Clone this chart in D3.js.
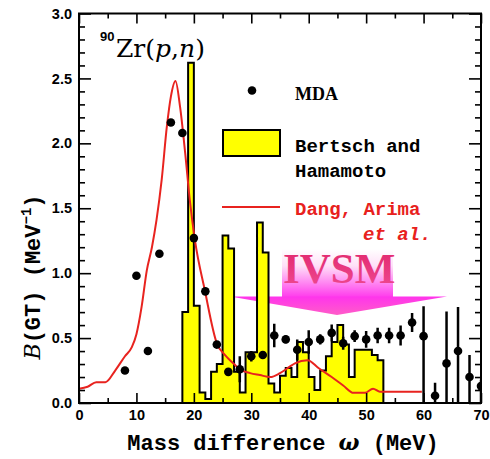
<!DOCTYPE html>
<html>
<head>
<meta charset="utf-8">
<script src="https://cdn.jsdelivr.net/npm/d3@7"></script>
<style>
  body { margin: 0; background: #fff; }
  svg { display: block; }
</style>
</head>
<body>
<svg id="chart" width="490" height="459"></svg>
<script>
// MDA points (MeV, B(GT) per MeV) with error bars
const mdaX = [8, 10, 12, 14, 16, 18, 20, 22, 24, 26, 28, 30, 32, 34, 36, 38, 40, 42, 44, 46, 48, 50, 52, 54, 56, 58, 60, 62, 64, 66, 68, 70];
const mdaY = [0.25, 0.98, 0.40, 1.15, 2.16, 2.08, 1.27, 0.86, 0.45, 0.24, 0.26, 0.36, 0.37, 0.52, 0.49, 0.41, 0.47, 0.49, 0.54, 0.46, 0.515, 0.49, 0.52, 0.52, 0.52, 0.62, 0.515, 0.056, 0.305, 0.40, 0.20, 0.13];
const mdaErrLo = [0, 0, 0, 0, 0, 0, 0, 0, 0, 0, 0.10, 0.04, 0.03, 0.09, 0.03, 0.08, 0.09, 0.04, 0.065, 0.05, 0.045, 0.065, 0.06, 0.06, 0.077, 0.074, 0.515, 0.056, 0.305, 0.40, 0.20, 0.13];
const mdaErrHi = [0, 0, 0, 0, 0, 0, 0, 0, 0, 0, 0.10, 0.04, 0.03, 0.09, 0.03, 0.08, 0.09, 0.04, 0.065, 0.05, 0.045, 0.065, 0.06, 0.06, 0.077, 0.074, 0.23, 0.10, 0.40, 0.34, 0.17, 0.05];

// Bertsch and Hamamoto histogram, 1 MeV bins
const binLo = [18, 19, 20, 21, 22, 23, 24, 25, 26, 27, 28, 29, 30, 31, 32, 33, 34, 35, 36, 37, 38, 39, 40, 41, 42, 43, 44, 45, 46, 47, 48, 49, 50, 51, 52];
const binVal = [0.70, 2.62, 0.75, 0.08, 0.03, 0.24, 0.30, 1.29, 1.19, 0.24, 0.08, 0.39, 0.39, 1.39, 1.16, 0.15, 0.08, 0.21, 0.27, 0.20, 0.47, 0.39, 0.20, 0.10, 0.25, 0.36, 0.47, 0.60, 0.45, 0.20, 0.41, 0.41, 0.41, 0.37, 0.33];
const binWidth = 1;

// Dang, Arima et al. curve
const dangX = [0, 1.5, 3, 4.6, 6.3, 8, 9.2, 10, 10.9, 11.8, 12.7, 13.5, 14.4, 15.3, 16, 16.8, 17.6, 18.5, 19.3, 20.2, 21.9, 24, 25.4, 27, 28, 29.8, 31.5, 33.3, 35, 36.7, 37.6, 39.8, 41.7, 44, 46, 47.8, 49.8, 51.2, 52.4, 59.7];
const dangY = [0.11, 0.125, 0.16, 0.16, 0.25, 0.36, 0.43, 0.53, 0.74, 1.02, 1.20, 1.41, 1.72, 2.13, 2.36, 2.48, 2.28, 1.92, 1.56, 1.25, 0.87, 0.46, 0.37, 0.30, 0.26, 0.23, 0.215, 0.20, 0.23, 0.28, 0.305, 0.33, 0.27, 0.20, 0.135, 0.078, 0.078, 0.11, 0.087, 0.087];

const xTicks = [0, 10, 20, 30, 40, 50, 60, 70];
const xMinor = [5, 15, 25, 35, 45, 55, 65];
const yTicks = [0, 0.5, 1.0, 1.5, 2.0, 2.5, 3.0];
const yMinor = d3.range(0, 3.001, 0.1).filter(v => Math.abs(v * 2 - Math.round(v * 2)) > 1e-6);

const L = 79, R = 481, T = 13.5, B = 403;
const svg = d3.select("#chart");
const x = d3.scaleLinear().domain([0, 70]).range([L, R]);
const y = d3.scaleLinear().domain([0, 3]).range([B, T]);

const defs = svg.append("defs");
const gShaft = defs.append("linearGradient").attr("id", "shaft").attr("x1", 0).attr("y1", 0).attr("x2", 0).attr("y2", 1);
gShaft.append("stop").attr("offset", "0").attr("stop-color", "#ffffff");
gShaft.append("stop").attr("offset", "0.35").attr("stop-color", "#ffe0f8");
gShaft.append("stop").attr("offset", "1").attr("stop-color", "#ff3cec");
const gHead = defs.append("linearGradient").attr("id", "head").attr("x1", 0).attr("y1", 0).attr("x2", 0).attr("y2", 1);
gHead.append("stop").attr("offset", "0").attr("stop-color", "#ff34ec");
gHead.append("stop").attr("offset", "1").attr("stop-color", "#ff5cc8");
const gText = defs.append("linearGradient").attr("id", "ivsmtxt").attr("x1", 0).attr("y1", 0).attr("x2", 0).attr("y2", 1);
gText.append("stop").attr("offset", "0").attr("stop-color", "#e0246a");
gText.append("stop").attr("offset", "1").attr("stop-color", "#f04c94");
defs.append("clipPath").attr("id", "plotclip")
  .append("rect").attr("x", L).attr("y", T).attr("width", R - L).attr("height", B - T);

// IVSM arrow (behind the histogram)
const arrow = svg.append("g");
arrow.append("rect")
  .attr("x", 282).attr("y", 249).attr("width", 111).attr("height", 48)
  .attr("fill", "url(#shaft)");
arrow.append("path")
  .attr("d", "M230,296.5 L447,296.5 L337,315 Z")
  .attr("fill", "url(#head)");
arrow.append("text")
  .attr("x", 283).attr("y", 283)
  .attr("font-family", "'Liberation Serif', serif")
  .attr("font-weight", "bold")
  .attr("font-size", 43)
  .attr("fill", "url(#ivsmtxt)")
  .text("IVSM");

// histogram
let hp = `M${x(binLo[0])},${y(0)}`;
binLo.forEach((lo, i) => {
  hp += ` L${x(lo)},${y(binVal[i])} L${x(lo + binWidth)},${y(binVal[i])}`;
});
hp += ` L${x(binLo[binLo.length - 1] + binWidth)},${y(0)} Z`;
svg.append("path")
  .attr("d", hp)
  .attr("fill", "#ffff00")
  .attr("stroke", "#000")
  .attr("stroke-width", 2)
  .attr("stroke-linejoin", "miter");

// theory curve
const line = d3.line().x(d => x(d[0])).y(d => y(d[1])).curve(d3.curveMonotoneX);
svg.append("path")
  .datum(dangX.map((v, i) => [v, dangY[i]]))
  .attr("d", line)
  .attr("fill", "none")
  .attr("stroke", "#e8231f")
  .attr("stroke-width", 2);

// MDA points
const pts = svg.append("g").attr("clip-path", "url(#plotclip)");
mdaX.forEach((v, i) => {
  if (mdaErrHi[i] > 0 || mdaErrLo[i] > 0) {
    pts.append("line")
      .attr("x1", x(v)).attr("x2", x(v))
      .attr("y1", y(Math.max(0, mdaY[i] - mdaErrLo[i])))
      .attr("y2", y(mdaY[i] + mdaErrHi[i]))
      .attr("stroke", "#000").attr("stroke-width", 2.5);
  }
  pts.append("circle")
    .attr("cx", x(v)).attr("cy", y(mdaY[i])).attr("r", 4.3)
    .attr("fill", "#000");
});

// axes with inward ticks
function styleAxis(g) {
  g.select(".domain").remove();
  g.selectAll(".tick line").attr("stroke", "#000").attr("stroke-width", 1.6);
  g.selectAll(".tick text")
    .attr("font-family", "'Liberation Sans', Arial, sans-serif")
    .attr("font-weight", "bold")
    .attr("font-size", 14.5)
    .attr("fill", "#000");
}
svg.append("g").attr("transform", `translate(0,${B})`)
  .call(d3.axisBottom(x).tickValues(xTicks).tickSize(-10).tickPadding(7).tickFormat(d3.format("d")))
  .call(styleAxis);
svg.append("g").attr("transform", `translate(0,${B})`)
  .call(d3.axisBottom(x).tickValues(xMinor).tickSize(-5).tickFormat(""))
  .call(styleAxis);
svg.append("g").attr("transform", `translate(0,${T})`)
  .call(d3.axisTop(x).tickValues(xTicks).tickSize(-10).tickFormat(""))
  .call(styleAxis);
svg.append("g").attr("transform", `translate(0,${T})`)
  .call(d3.axisTop(x).tickValues(xMinor).tickSize(-5).tickFormat(""))
  .call(styleAxis);
svg.append("g").attr("transform", `translate(${L},0)`)
  .call(d3.axisLeft(y).tickValues(yTicks).tickSize(-12).tickPadding(7).tickFormat(d3.format(".1f")))
  .call(styleAxis);
svg.append("g").attr("transform", `translate(${L},0)`)
  .call(d3.axisLeft(y).tickValues(yMinor).tickSize(-6).tickFormat(""))
  .call(styleAxis);
svg.append("g").attr("transform", `translate(${R},0)`)
  .call(d3.axisRight(y).tickValues(yTicks).tickSize(-12).tickFormat(""))
  .call(styleAxis);
svg.append("g").attr("transform", `translate(${R},0)`)
  .call(d3.axisRight(y).tickValues(yMinor).tickSize(-6).tickFormat(""))
  .call(styleAxis);

svg.append("rect")
  .attr("x", L).attr("y", T).attr("width", R - L).attr("height", B - T)
  .attr("fill", "none").attr("stroke", "#000").attr("stroke-width", 2);

// axis titles
const mono = "'Liberation Mono', 'DejaVu Sans Mono', monospace";
const xt = svg.append("text")
  .attr("x", 283).attr("y", 450)
  .attr("text-anchor", "middle")
  .attr("font-family", mono).attr("font-weight", "bold").attr("font-size", 22);
xt.append("tspan").text("Mass difference ");
xt.append("tspan").attr("font-family", "'DejaVu Serif', serif").attr("font-style", "italic").text("ω");
xt.append("tspan").text(" (MeV)");

const yt = svg.append("text")
  .attr("transform", "translate(40,277) rotate(-90)")
  .attr("text-anchor", "middle")
  .attr("font-family", mono).attr("font-weight", "bold").attr("font-size", 22);
yt.append("tspan").attr("font-family", "'DejaVu Serif', serif").attr("font-style", "italic").attr("font-weight", "normal").text("B");
yt.append("tspan").text("(GT) (MeV");
yt.append("tspan").attr("font-size", 14).attr("dy", -9).text("−1");
yt.append("tspan").attr("dy", 9).text(")");

// reaction label
svg.append("text")
  .attr("x", 100).attr("y", 41)
  .attr("font-family", "'Liberation Sans', Arial, sans-serif")
  .attr("font-weight", "bold").attr("font-size", 13)
  .text("90");
const rt = svg.append("text")
  .attr("x", 116).attr("y", 57)
  .attr("font-family", "'DejaVu Serif', serif").attr("font-size", 25);
rt.append("tspan").text("Zr(");
rt.append("tspan").attr("font-style", "italic").text("p");
rt.append("tspan").text(",");
rt.append("tspan").attr("font-style", "italic").text("n");
rt.append("tspan").text(")");

// legend
const lg = svg.append("g");
lg.append("circle").attr("cx", 252).attr("cy", 90.5).attr("r", 4.3).attr("fill", "#000");
lg.append("text").attr("x", 295).attr("y", 100)
  .attr("font-family", "'Liberation Serif', serif").attr("font-weight", "bold").attr("font-size", 18)
  .text("MDA");
lg.append("rect").attr("x", 223).attr("y", 130).attr("width", 57).attr("height", 26)
  .attr("fill", "#ffff00").attr("stroke", "#000").attr("stroke-width", 2);
lg.append("text").attr("x", 295).attr("y", 152)
  .attr("font-family", mono).attr("font-weight", "bold").attr("font-size", 19).text("Bertsch and");
lg.append("text").attr("x", 295).attr("y", 177)
  .attr("font-family", mono).attr("font-weight", "bold").attr("font-size", 19).text("Hamamoto");
lg.append("line").attr("x1", 222).attr("x2", 280).attr("y1", 207).attr("y2", 207)
  .attr("stroke", "#e8231f").attr("stroke-width", 2);
lg.append("text").attr("x", 295).attr("y", 215)
  .attr("font-family", mono).attr("font-weight", "bold").attr("font-size", 19)
  .attr("fill", "#e8211d").text("Dang, Arima");
lg.append("text").attr("x", 363).attr("y", 240)
  .attr("font-family", mono).attr("font-weight", "bold").attr("font-style", "italic").attr("font-size", 19)
  .attr("fill", "#e8211d").text("et al.");
</script>
</body>
</html>
